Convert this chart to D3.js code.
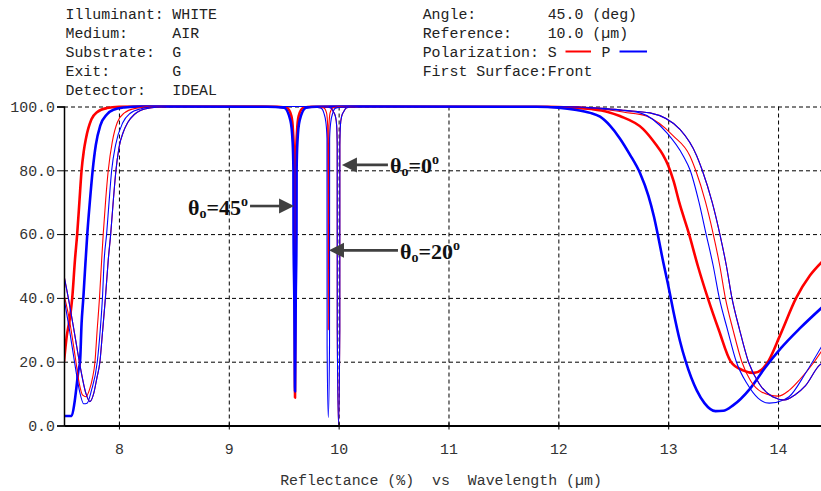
<!DOCTYPE html>
<html>
<head>
<meta charset="utf-8">
<script src="https://cdn.jsdelivr.net/npm/d3@7"></script>
<style>
  html, body { margin: 0; padding: 0; background: #ffffff; }
  svg { display: block; }
  .mono { font-family: "Liberation Mono", "Courier New", monospace; }
</style>
</head>
<body>
<svg id="chart" width="821" height="491"></svg>
<script>
// ---- Axis ticks ----
const xTicks = [8, 9, 10, 11, 12, 13, 14];
const yTicks = [0, 20, 40, 60, 80, 100];
const xDomain = [7.5, 14.4];
const yDomain = [0, 100];

// ---- Header fields ----
const headerLeftKeys = ["Illuminant:", "Medium:", "Substrate:", "Exit:", "Detector:"];
const headerLeftVals = ["WHITE", "AIR", "G", "G", "IDEAL"];
const headerRightKeys = ["Angle:", "Reference:", "Polarization:", "First Surface:"];
const headerRightVals = ["45.0 (deg)", "10.0 (\u00b5m)", "S", "Front"];
const xTitle = "Reflectance (%)  vs  Wavelength (\u00b5m)";

// ---- Reflectance (%) vs wavelength (µm) ----
// 45 deg incidence, S polarization
const s45 = [
  [7.5, 20], [7.525, 28], [7.555, 34], [7.575, 40], [7.60, 52], [7.62, 60], [7.64, 70],
  [7.66, 80], [7.68, 86], [7.70, 90], [7.75, 96], [7.80, 98.2], [7.89, 99.5], [8.0, 99.9],
  [8.2, 100], [9.3, 100], [9.45, 99.9], [9.53, 99.5], [9.57, 97], [9.585, 92], [9.594, 84],
  [9.5985, 70], [9.6005, 40], [9.603, 8.7], [9.6055, 40], [9.6075, 70], [9.612, 84],
  [9.621, 92], [9.636, 97], [9.676, 99.5], [9.76, 99.9], [10.2, 100], [11.9, 99.9],
  [12.1, 99.7], [12.3, 99.2], [12.45, 98.3], [12.56, 97], [12.77, 93], [12.89, 88],
  [12.95, 85], [13.0, 81.5], [13.05, 76.5], [13.1, 70], [13.19, 60], [13.27, 50],
  [13.36, 40], [13.46, 30], [13.57, 20], [13.68, 17.3], [13.78, 16.5], [13.85, 17.5],
  [13.9, 19.5], [14.02, 28.4], [14.165, 40], [14.29, 47], [14.4, 51.3]
];
// 45 deg incidence, P polarization
const p45 = [
  [7.5, 3], [7.57, 3], [7.595, 7], [7.615, 12.5], [7.63, 17], [7.646, 20], [7.66, 32],
  [7.676, 40], [7.69, 48], [7.712, 60], [7.735, 70], [7.761, 80], [7.79, 88], [7.83, 94],
  [7.89, 97.5], [7.95, 99], [8.05, 99.7], [8.2, 100], [9.35, 99.9], [9.503, 99.6],
  [9.561, 95.6], [9.581, 89], [9.5885, 80], [9.5895, 60], [9.5965, 40], [9.603, 10.7],
  [9.6095, 40], [9.6165, 60], [9.6175, 80], [9.625, 89], [9.645, 95.6], [9.703, 99.6],
  [9.80, 99.9], [10.2, 100], [11.8, 99.9], [12.0, 99.6], [12.15, 99], [12.29, 98],
  [12.38, 96.8], [12.47, 94], [12.56, 90], [12.65, 85], [12.745, 79], [12.82, 72],
  [12.87, 65.5], [12.91, 59], [12.95, 52], [13.0, 44], [13.046, 36], [13.107, 26.5],
  [13.16, 20], [13.26, 11], [13.33, 7], [13.43, 4.5], [13.5, 4.6], [13.59, 6.3],
  [13.744, 11.5], [13.88, 18], [14.02, 24], [14.2, 30.5], [14.4, 37]
];
// 20 deg incidence, S polarization
const s20 = [
  [7.5, 41], [7.55, 33], [7.6, 22], [7.64, 13], [7.67, 9.5], [7.70, 9], [7.73, 11],
  [7.76, 15], [7.782, 20], [7.80, 29], [7.823, 40], [7.843, 52], [7.857, 60], [7.88, 71],
  [7.903, 80], [7.94, 89], [7.985, 95], [8.05, 98], [8.15, 99.4], [8.3, 100], [9.7, 100],
  [9.80, 99.9], [9.866, 99.5], [9.89, 98], [9.90, 94], [9.904, 70], [9.906, 30],
  [9.908, 70], [9.912, 94], [9.922, 98], [9.946, 99.5], [10.0, 99.9], [10.1, 100],
  [12.0, 100], [12.38, 99.3], [12.6, 98.2], [12.8, 97], [13.046, 90.8], [13.198, 84.5],
  [13.25, 80], [13.34, 70], [13.41, 60], [13.47, 50], [13.52, 40], [13.59, 30],
  [13.67, 20], [13.75, 14], [13.85, 10.5], [14.0, 9.2], [14.1, 11], [14.2, 14.5],
  [14.33, 20], [14.4, 23.5]
];
// 20 deg incidence, P polarization
const p20 = [
  [7.5, 40], [7.55, 30], [7.6, 19], [7.64, 11], [7.68, 6.8], [7.71, 7], [7.75, 11],
  [7.803, 20], [7.83, 30], [7.85, 40], [7.866, 52], [7.888, 60], [7.91, 70], [7.934, 80],
  [7.97, 88], [8.036, 95], [8.1, 97.8], [8.2, 99.3], [8.35, 100], [9.7, 100],
  [9.75, 99.9], [9.84, 99.5], [9.865, 98], [9.884, 95], [9.894, 90], [9.895, 25],
  [9.906, 2.5], [9.917, 25], [9.918, 90], [9.928, 95], [9.947, 98], [9.972, 99.5],
  [10.06, 99.9], [10.15, 100], [12.0, 100], [12.38, 99.3], [12.56, 98.8], [12.743, 98],
  [12.986, 91.8], [13.137, 84.5], [13.2, 80], [13.28, 70], [13.345, 60], [13.41, 50],
  [13.465, 40], [13.54, 30], [13.62, 20], [13.72, 13], [13.82, 8.5], [13.92, 7],
  [14.05, 8], [14.1, 9], [14.25, 16.4], [14.4, 25]
];
// normal incidence (S and P coincide)
const r0 = [
  [7.5, 47], [7.55, 38], [7.6, 28], [7.65, 18], [7.70, 10], [7.736, 7.5], [7.77, 10],
  [7.80, 15], [7.827, 20], [7.85, 29], [7.877, 40], [7.903, 52], [7.925, 60], [7.95, 71],
  [7.973, 80], [8.0, 87], [8.04, 92], [8.08, 95], [8.14, 97.5], [8.2, 98.8], [8.3, 99.6],
  [8.45, 100], [9.8, 100], [9.88, 99.9], [9.93, 99.5], [9.95, 98.5], [9.97, 97],
  [9.982, 94], [9.987, 88], [9.9875, 30], [9.999, 0], [10.0105, 30], [10.011, 88],
  [10.016, 94], [10.028, 97], [10.048, 98.5], [10.068, 99.5], [10.12, 99.9], [10.2, 100],
  [12.0, 100], [12.4, 99.4], [12.6, 98.8], [12.834, 98], [13.107, 92.8], [13.26, 84.5],
  [13.31, 80], [13.40, 70], [13.47, 60], [13.53, 50], [13.58, 40], [13.65, 30],
  [13.73, 20], [13.83, 13], [13.95, 9], [14.06, 8], [14.15, 9.5], [14.25, 12.5],
  [14.38, 19], [14.4, 19.5]
];

// ---- Angle annotations: arrow tip on the spectral dip ----
const noteAngles = ["45", "0", "20"];
const noteTipWl = [9.594, 10.03, 9.912];
const noteTipR = [68.8, 81.7, 54.9];

// ---- Layout ----
const svg = d3.select("#chart");
const plotL = 64, plotR = 822, plotT = 106.5, plotB = 425.5;
const RED = "#ff0000", BLUE = "#0000ff", INK = "#222222";

const x = d3.scaleLinear().domain(xDomain).range([plotL, plotR]);
const y = d3.scaleLinear().domain(yDomain).range([plotB, plotT]);

// header block
const rowY = i => 18.5 + i * 19;
const hdr = svg.append("g").attr("class", "mono")
  .style("font-size", "14.9px").attr("fill", INK);
headerLeftKeys.forEach((k, i) => {
  hdr.append("text").attr("x", 65.5).attr("y", rowY(i)).text(k);
  hdr.append("text").attr("x", 172.3).attr("y", rowY(i)).text(headerLeftVals[i]);
});
headerRightKeys.forEach((k, i) => {
  hdr.append("text").attr("x", 422.7).attr("y", rowY(i)).text(k);
  hdr.append("text").attr("x", 547.7).attr("y", rowY(i)).text(headerRightVals[i]);
});
// polarization legend swatches
hdr.append("line").attr("x1", 565.5).attr("x2", 591).attr("y1", 51.5).attr("y2", 51.5)
  .attr("stroke", RED).attr("stroke-width", 2);
hdr.append("text").attr("x", 601.5).attr("y", rowY(2)).text("P");
hdr.append("line").attr("x1", 619.5).attr("x2", 647).attr("y1", 51.5).attr("y2", 51.5)
  .attr("stroke", BLUE).attr("stroke-width", 2);

// dashed grid
const dash = "4,3";
const gy = svg.append("g").attr("transform", `translate(${plotL},0)`)
  .call(d3.axisLeft(y).tickValues(yTicks.filter(v => v > 0)).tickSize(-(plotR - plotL)).tickFormat(""));
gy.select(".domain").remove();
gy.selectAll("line").attr("stroke", "#000").attr("stroke-width", 1).attr("stroke-dasharray", dash);

const gx = svg.append("g").attr("transform", `translate(0,${plotB})`)
  .call(d3.axisBottom(x).tickValues(xTicks).tickSize(-(plotB - plotT)).tickFormat(""));
gx.select(".domain").remove();
gx.selectAll("line").attr("stroke", "#000").attr("stroke-width", 1).attr("stroke-dasharray", dash);

// curves
svg.append("clipPath").attr("id", "plotClip").append("rect")
  .attr("x", plotL).attr("y", plotT - 6).attr("width", plotR - plotL).attr("height", plotB - plotT + 6);

const line = d3.line().x(d => x(d[0])).y(d => y(d[1])).curve(d3.curveMonotoneX);
const curves = [
  { data: s45, color: RED, w: 2.6 },
  { data: p45, color: BLUE, w: 2.6 },
  { data: s20, color: RED, w: 1.1 },
  { data: p20, color: BLUE, w: 1.1 },
  { data: r0, color: RED, w: 1.1 },
  { data: r0, color: BLUE, w: 1.1 }
];
const plot = svg.append("g").attr("clip-path", "url(#plotClip)");
plot.selectAll("path.curve").data(curves).join("path")
  .attr("class", "curve")
  .attr("d", d => line(d.data))
  .attr("fill", "none")
  .attr("stroke", d => d.color)
  .attr("stroke-width", d => d.w)
  .attr("stroke-linejoin", "round");

// axes
const yAxis = svg.append("g").attr("class", "mono").attr("transform", `translate(${plotL},0)`)
  .call(d3.axisLeft(y).tickValues(yTicks).tickSize(7).tickPadding(2).tickFormat(d3.format(".1f")));
yAxis.select(".domain").attr("stroke", "#000").attr("stroke-width", 1.5);
yAxis.selectAll("line").attr("stroke", "#000");
yAxis.selectAll("text").attr("fill", "#333").style("font-size", "14.9px")
  .style("font-family", "Liberation Mono, monospace");

const xAxis = svg.append("g").attr("class", "mono").attr("transform", `translate(0,${plotB})`)
  .call(d3.axisBottom(x).tickValues(xTicks).tickSizeInner(4).tickSizeOuter(0).tickPadding(14).tickFormat(d3.format("d")));
xAxis.select(".domain").attr("stroke", "#000").attr("stroke-width", 2);
xAxis.selectAll(".tick line").attr("stroke", "#000").attr("y1", -3);
xAxis.selectAll("text").attr("fill", "#333").style("font-size", "14.9px")
  .style("font-family", "Liberation Mono, monospace");

// axis title
svg.append("text").attr("class", "mono")
  .attr("x", 441).attr("y", 484.5).attr("text-anchor", "middle")
  .style("font-size", "14.9px").style("white-space", "pre").attr("fill", "#333")
  .text(xTitle);

// angle annotations
const ARROW = "#404040";
noteAngles.forEach((ang, i) => {
  const tx = x(noteTipWl[i]), ty = y(noteTipR[i]);
  const pointsRight = i === 0;           // the 45 deg label sits left of its dip
  const dir = pointsRight ? -1 : 1;      // direction from tip towards the label
  const headLen = 15, headHalf = 7.5;
  const shaftLen = pointsRight ? 29 : (i === 1 ? 31 : 54);
  const g = svg.append("g");
  g.append("line")
    .attr("x1", tx + dir * headLen - dir * 1).attr("x2", tx + dir * (headLen + shaftLen))
    .attr("y1", ty).attr("y2", ty)
    .attr("stroke", ARROW).attr("stroke-width", 2.6);
  g.append("path")
    .attr("d", `M${tx},${ty} L${tx + dir * headLen},${ty - headHalf} L${tx + dir * headLen},${ty + headHalf} Z`)
    .attr("fill", ARROW);
  const labelX = tx + dir * (headLen + shaftLen + 2);
  const t = g.append("text")
    .attr("x", labelX).attr("y", ty + 8.5)
    .attr("text-anchor", pointsRight ? "end" : "start")
    .style("font-family", "Liberation Serif, Times New Roman, serif")
    .style("font-weight", "bold").style("font-size", "22px").attr("fill", "#111");
  t.append("tspan").text("\u03b8");
  t.append("tspan").attr("dy", 3).style("font-size", "14px").text("o");
  t.append("tspan").attr("dy", -3).text("=" + ang);
  t.append("tspan").attr("dy", -9).style("font-size", "14px").text("o");
});
</script>
</body>
</html>
